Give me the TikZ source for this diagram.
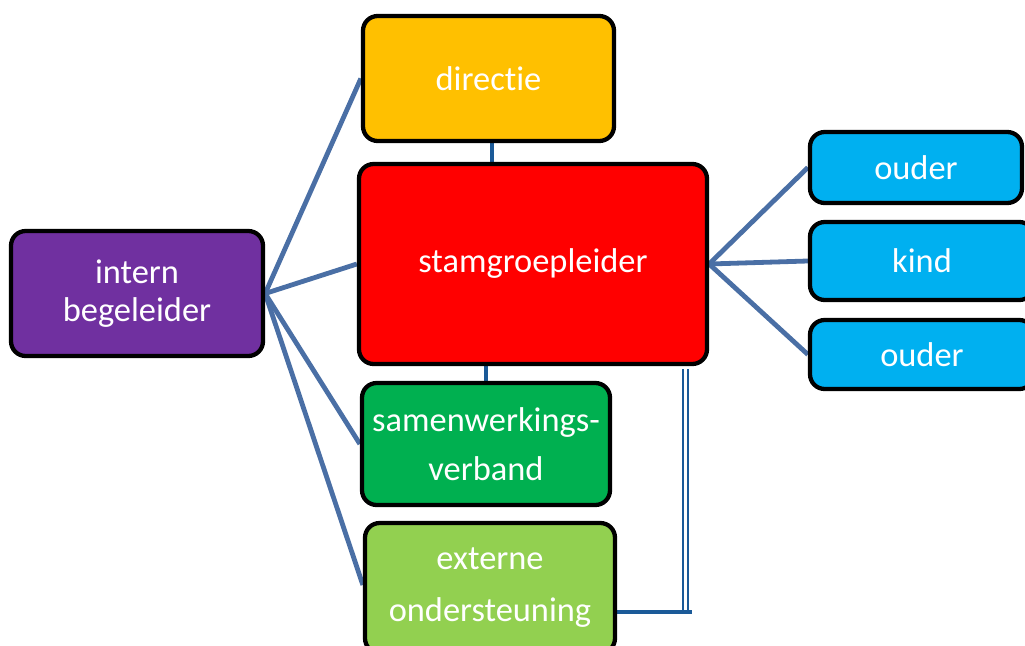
\documentclass[tikz,border=0pt]{standalone}
\usepackage{fontspec}
\setmainfont{Carlito}[Ligatures={NoCommon}]
\usetikzlibrary{backgrounds}
\definecolor{cdir}{HTML}{FFC000}
\definecolor{cstam}{HTML}{FF0000}
\definecolor{csamen}{HTML}{00B050}
\definecolor{cext}{HTML}{92D050}
\definecolor{cib}{HTML}{7030A0}
\definecolor{couder}{HTML}{00B0F0}
\definecolor{cline}{HTML}{4A6FA5}
\definecolor{cdark}{HTML}{1B5A98}
\tikzset{
  box/.style={draw=black, line width=3.2pt, rounded corners=11pt, text=white,
    align=center, inner sep=0pt, font=\fontsize{25.8}{28}\selectfont},
  conn/.style={draw=cline, line width=3.6pt},
  darkconn/.style={draw=cdark, line width=3pt},
}
\begin{document}
\begin{tikzpicture}[x=0.75pt,y=-0.75pt]
\useasboundingbox (0,0) rectangle (1025,646);
\clip (0,0) rectangle (1025,646);
\node[box, fill=cdir, minimum width=188.25pt, minimum height=93.75pt] (dir) at (488.5,78.5) {directie};
\node[box, fill=cstam, minimum width=261pt, minimum height=150pt] (stam) at (533,264) {stamgroepleider};
\node[box, fill=csamen, minimum width=186pt, minimum height=91.5pt] (samen) at (486,444) {samenwerkings-\\[9pt]verband};
\node[box, fill=cext, minimum width=187.5pt, minimum height=97.5pt] (ext) at (490,588) {externe\\[11pt]ondersteuning};
\node[box, fill=cib, minimum width=189pt, minimum height=93.75pt] (ib) at (137,293.5) {\raisebox{-2pt}{intern}\\\raisebox{-2pt}{begeleider}};
\node[box, fill=couder, minimum width=159pt, minimum height=53.25pt] (o1) at (916,167.5) {ouder};
\node[box, fill=couder, minimum width=168pt, minimum height=58.5pt] (kind) at (922,261) {kind};
\node[box, fill=couder, minimum width=168pt, minimum height=51.75pt] (o2) at (922,354.5) {ouder};
\coordinate (v1) at (492,0);
\coordinate (bt) at (685.5,369);
\coordinate (bc) at (685.5,611);
\coordinate (bh) at (692,612);
\begin{pgfonlayer}{background}
\draw[conn] (ib.east) -- (dir.west);
\draw[conn] (ib.east) -- (stam.west);
\draw[conn] (ib.east) -- (samen.west);
\draw[conn] (ib.east) -- ([yshift=2.25pt]ext.west);
\draw[conn] (stam.east) -- (o1.west);
\draw[conn] (stam.east) -- (kind.west);
\draw[conn] (stam.east) -- (o2.west);
\draw[darkconn] (dir.south -| v1) -- (stam.north -| v1);
\draw[darkconn] (stam.south -| samen.north) -- (samen.north);
\draw[draw=cdark, line width=1.5pt, double=white, double distance=1.9pt] (bt) -- (bc);
\draw[darkconn] (ext.east |- bh) -- (bh);
\end{pgfonlayer}
\end{tikzpicture}
\end{document}
